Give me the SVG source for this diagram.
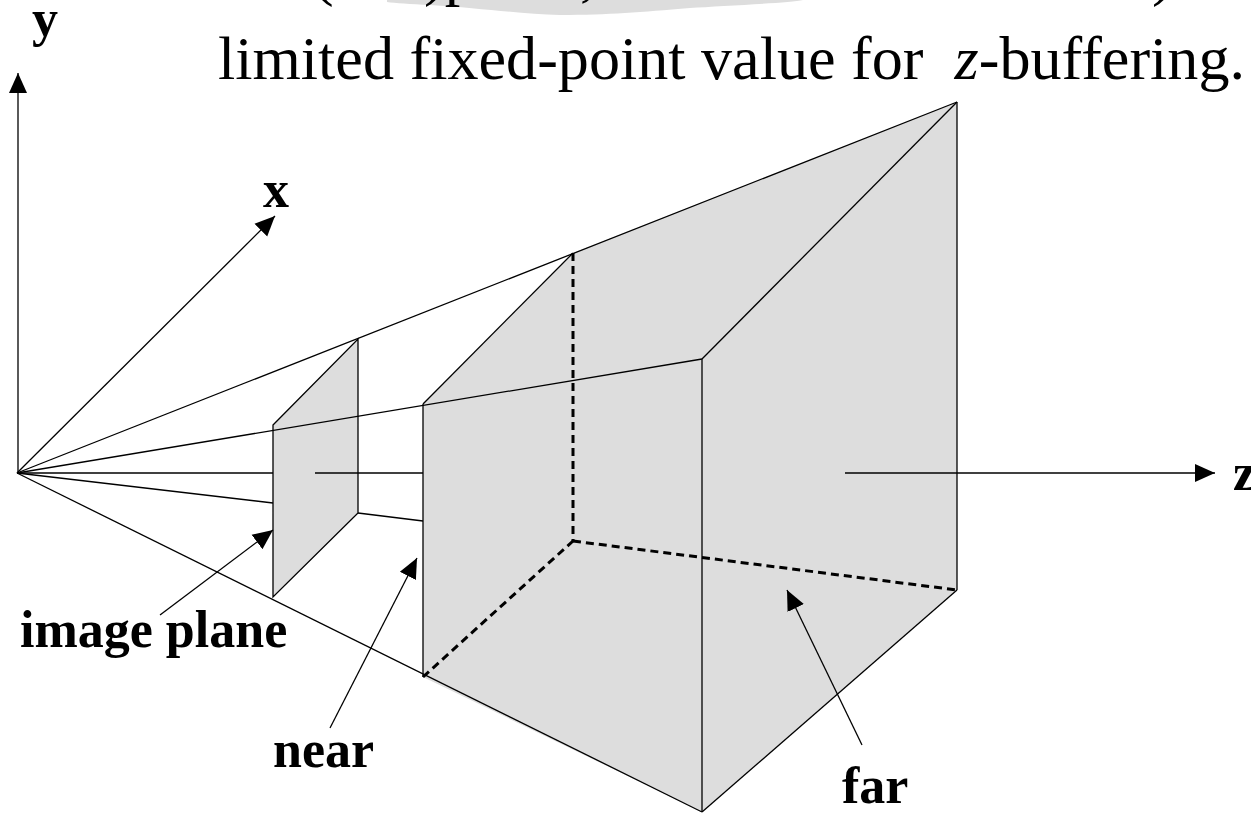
<svg xmlns="http://www.w3.org/2000/svg" width="1251" height="814" viewBox="0 0 1251 814">
<style>
.ln{stroke:#000;stroke-width:1.3;fill:none}
.dash{stroke:#000;stroke-width:3;stroke-dasharray:8 5;fill:none}
.fill{fill:#dddddd;stroke:none}
.lbl{font-family:"Liberation Serif","Times New Roman",serif;font-weight:bold;font-size:52px;fill:#000}
.body{font-family:"Liberation Serif","Times New Roman",serif;font-size:62px;fill:#000}
</style>
<defs>
<marker id="ah" markerUnits="userSpaceOnUse" markerWidth="22" markerHeight="20" refX="20" refY="10" orient="auto"><path d="M0,1 L20,10 L0,19 Z" fill="#000"/></marker>
</defs>
<rect width="1251" height="814" fill="#fff"/>
<g id="header">
<path d="M387,0 L803,0 C790,3 720,6 690,8 C640,12 610,15 560,15 C520,14 480,8 430,5 C410,4 395,3 387,2 Z" fill="#dddddd"/>
<text class="body" x="313" y="-6">(</text>
<text class="body" x="424" y="-6">)p</text>
<text class="body" x="580" y="-6">,</text>
<text class="body" x="1152" y="-6">)</text>
<text class="body" x="218" y="79" xml:space="preserve" textLength="1027" lengthAdjust="spacingAndGlyphs">limited fixed-point value for  <tspan font-style="italic">z</tspan>-buffering.</text>
</g>
<g id="frustum">
<polygon class="fill" points="423,404 573,253 957,102 957,590 702,812 423,677"/>
</g>
<g id="image-plane">
<polygon points="273,425 358,339 358,513 273,597" fill="#dddddd" stroke="#000" stroke-width="1.3"/>
</g>
<g id="connectors">
<line class="ln" x1="17" y1="473" x2="957" y2="102"/>
<line class="ln" x1="17" y1="473" x2="702" y2="359"/>
<line class="ln" x1="17" y1="473" x2="273" y2="473"/>
<line class="ln" x1="315" y1="473" x2="423" y2="473"/>
<line class="ln" x1="17" y1="473" x2="273" y2="503"/>
<line class="ln" x1="358" y1="513" x2="423" y2="521"/>
<line class="ln" x1="17" y1="473" x2="702" y2="812"/>
<line class="ln" x1="423" y1="404" x2="573" y2="253"/>
<line class="ln" x1="423" y1="404" x2="423" y2="677"/>
<line class="ln" x1="702" y1="359" x2="957" y2="102"/>
<line class="ln" x1="957" y1="102" x2="957" y2="590"/>
<line class="ln" x1="702" y1="359" x2="702" y2="812"/>
<line class="ln" x1="702" y1="812" x2="957" y2="590"/>
<line class="dash" x1="573" y1="253" x2="573" y2="541"/>
<line class="dash" x1="423" y1="677" x2="573" y2="541"/>
<line class="dash" x1="573" y1="541" x2="957" y2="590"/>
<line class="ln" x1="18" y1="473" x2="18" y2="73" marker-end="url(#ah)"/>
<line class="ln" x1="17" y1="473" x2="275" y2="216" marker-end="url(#ah)"/>
<line class="ln" x1="845" y1="473" x2="1215" y2="473" marker-end="url(#ah)"/>
<line class="ln" x1="160" y1="615" x2="273" y2="530" marker-end="url(#ah)"/>
<line class="ln" x1="330" y1="728" x2="417" y2="558" marker-end="url(#ah)"/>
<line class="ln" x1="862" y1="745" x2="787" y2="590" marker-end="url(#ah)"/>
</g>
<g id="labels">
<text class="lbl" x="32" y="36">y</text>
<text class="lbl" x="263" y="207">x</text>
<text class="lbl" x="1233" y="490">z</text>
<text class="lbl" x="20" y="647">image plane</text>
<text class="lbl" x="273" y="767">near</text>
<text class="lbl" x="842" y="803">far</text>
</g>
</svg>
